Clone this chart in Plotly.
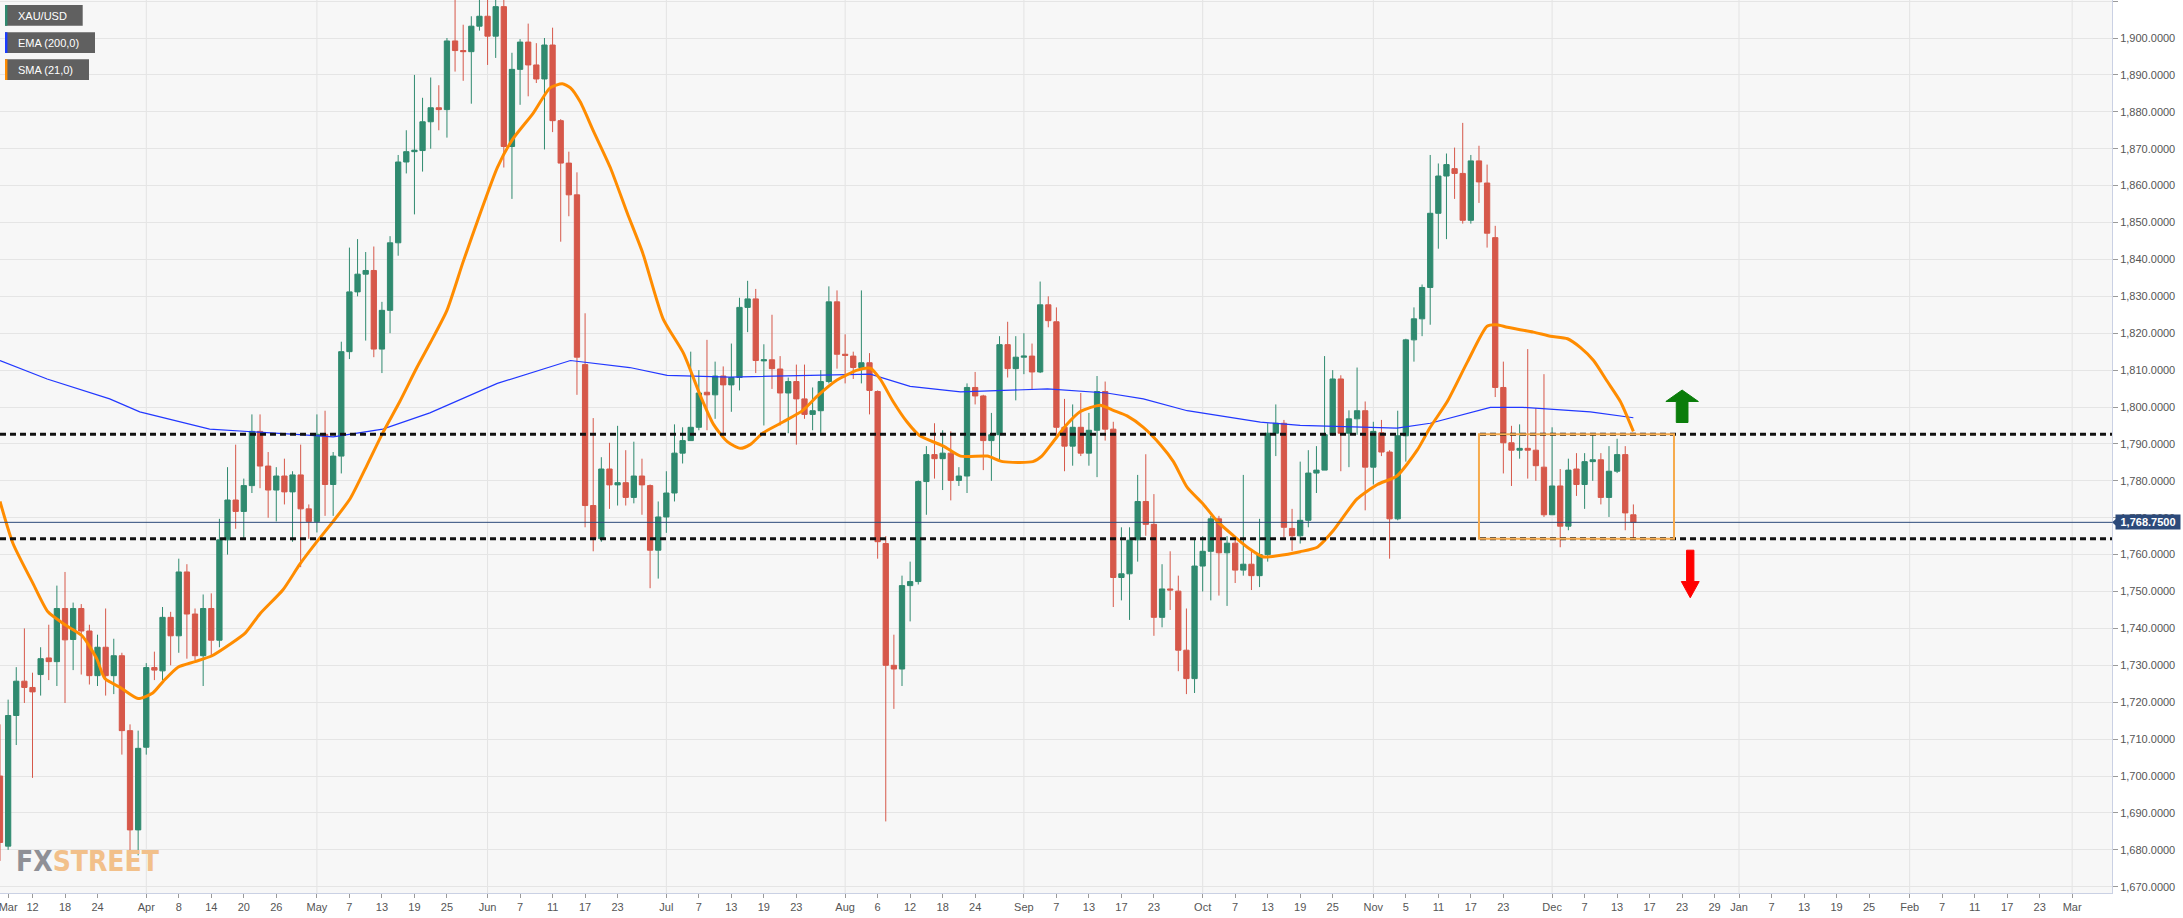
import pandas as pd
import plotly.graph_objects as go

# ---------------- data ----------------
HOLIDAYS = ["2021-04-02"]
calendar = [d.strftime("%Y-%m-%d") for d in pd.bdate_range("2021-03-08", "2022-03-20")
            if d.strftime("%Y-%m-%d") not in HOLIDAYS]
day_of = {d: i for i, d in enumerate(calendar)}

opens = [1700, 1681, 1716.4, 1725.7, 1724, 1727.5, 1732, 1731, 1745.4, 1737,
         1745.4, 1739.3, 1727.2, 1734.9, 1727.2, 1732.6, 1712.3, 1685.4, 1707.8, 1729.4,
         1728.5, 1743, 1738, 1755.3, 1743.9, 1732.6, 1745.4, 1736.8, 1764, 1774.8,
         1771.7, 1778.7, 1793.4, 1784, 1777.5, 1781.3, 1777, 1781.6, 1772.4, 1769,
         1792.6, 1779, 1786.7, 1815, 1831.2, 1836, 1837, 1815.7, 1826.2, 1844.5,
         1866.4, 1869.2, 1869.5, 1877.3, 1881.1, 1880.6, 1899.2, 1896.6, 1896.3, 1903.2,
         1905.9, 1900.5, 1908.5, 1870.6, 1891.5, 1898.9, 1892.7, 1888.9, 1898.1, 1877.6,
         1866.1, 1857.5, 1811.5, 1773.3, 1764.3, 1783.2, 1778.9, 1779.5, 1775.5, 1781.3,
         1778.7, 1761.2, 1770.2, 1776.7, 1787.5, 1790.9, 1794.5, 1804, 1803.3, 1808.4,
         1806, 1808, 1827, 1829.3, 1812.5, 1812.8, 1810.3, 1803.8, 1806.9, 1802.2,
         1798, 1799, 1806.9, 1828.5, 1814.3, 1813.8, 1810.7, 1812, 1804.2, 1763,
         1730, 1729, 1751.6, 1752.7, 1779.8, 1787.1, 1786, 1787.5, 1780.1, 1781.3,
         1805.3, 1803, 1790.9, 1792.5, 1816.9, 1810.4, 1813.5, 1813.8, 1809.5, 1827.7,
         1823.1, 1794.5, 1789.4, 1794.5, 1787.5, 1793.7, 1804.2, 1794, 1753.8, 1754.8,
         1764, 1774.4, 1768.2, 1743, 1750.7, 1750.1, 1734.1, 1726.4, 1756.9, 1760.9,
         1769.7, 1760.5, 1763.1, 1755.8, 1757.4, 1754.3, 1760, 1792.9, 1795.6, 1767.1,
         1765.1, 1769.3, 1782.1, 1782.9, 1792.5, 1807.6, 1792.9, 1796.8, 1799, 1783.7,
         1793, 1787.8, 1769.7, 1792.2, 1818.2, 1823.9, 1832.4, 1852.5, 1862.6, 1864.6,
         1863.3, 1850.6, 1866.7, 1860.7, 1845.9, 1805.3, 1790.3, 1788.3, 1788.8, 1788.3,
         1783.7, 1770.8, 1778.6, 1767.7, 1783.2, 1779, 1785.2, 1785.7, 1775.5, 1782.6,
         1787.1, 1770.8]
highs = [1714, 1720.7, 1729.5, 1740, 1728, 1734.9, 1741, 1751.6, 1755.3, 1747,
         1746.6, 1741, 1738.3, 1745.4, 1737.2, 1733.4, 1714, 1712.3, 1730.6, 1733.7,
         1745.8, 1744.5, 1758.9, 1757.4, 1745.4, 1749.2, 1749.5, 1769.7, 1783.7, 1789.8,
         1780.6, 1798, 1798, 1787.8, 1783.7, 1786, 1782.6, 1789.8, 1773.6, 1798,
         1799, 1787.8, 1817.7, 1843.2, 1845.5, 1842, 1843.5, 1828.5, 1846.3, 1868.3,
         1875, 1890, 1883.8, 1889.3, 1887.2, 1900, 1912.5, 1903.6, 1905.9, 1912,
         1916.5, 1913, 1912, 1896, 1899.7, 1903.9, 1898.6, 1900, 1902.8, 1878,
         1869.2, 1863.6, 1825.4, 1797, 1786.4, 1790.3, 1794.9, 1788.3, 1790.6, 1786,
         1779, 1774.4, 1782.6, 1795.3, 1794.5, 1815, 1810, 1818.2, 1812.3, 1811,
         1817.2, 1829.6, 1834.2, 1832, 1817, 1825, 1813.8, 1808, 1811.5, 1811.5,
         1805.3, 1810, 1832.7, 1831.6, 1819.7, 1815, 1831.6, 1814.6, 1804.5, 1765,
         1738.3, 1754.3, 1758.1, 1780.1, 1789.4, 1795.6, 1793.7, 1793.4, 1783.7, 1806.4,
         1809.5, 1803.3, 1798.4, 1819.2, 1823.1, 1819.2, 1820, 1817.2, 1834, 1830,
         1827, 1802.2, 1800.7, 1803.8, 1798.4, 1808.4, 1806.9, 1796, 1767.4, 1767.4,
         1781.6, 1787.2, 1776.4, 1757.4, 1760.9, 1754.3, 1745.4, 1764, 1765, 1770.5,
         1770.5, 1765, 1765, 1781.6, 1761.2, 1769.7, 1795.6, 1800.7, 1796.5, 1772.4,
         1785.2, 1788.3, 1789.4, 1813.8, 1810, 1808.6, 1799.1, 1810.7, 1801.5, 1796,
         1796.5, 1788.3, 1799, 1818.5, 1827, 1833.2, 1868.3, 1866, 1868.7, 1870.3,
         1877, 1868.3, 1870.8, 1865.7, 1849.1, 1812.3, 1794.9, 1795.3, 1815.7, 1799.7,
         1808.9, 1794.5, 1783.2, 1786, 1787.5, 1787.5, 1792.9, 1787.5, 1789.4, 1791.4,
         1789.4, 1773.6]
lows = [1677, 1680, 1708.4, 1719.8, 1699.5, 1721.8, 1726, 1724.4, 1719.8, 1728.7,
        1727.5, 1724.8, 1724.4, 1721.8, 1722.2, 1705.8, 1679.2, 1678.5, 1705.8, 1726,
        1726, 1730, 1733.4, 1731.8, 1731.4, 1724.4, 1732.6, 1734.9, 1760, 1767,
        1764, 1776.7, 1778, 1770, 1769, 1773.6, 1763.5, 1756.6, 1764.3, 1766,
        1770.5, 1770.5, 1782, 1813, 1830, 1818, 1813.5, 1809.2, 1820, 1841,
        1863.3, 1852.2, 1863.8, 1870, 1875, 1873, 1890.9, 1888.4, 1882.2, 1902,
        1892.7, 1894.6, 1864.9, 1856.4, 1881.9, 1884.2, 1887.8, 1869.8, 1874.5, 1844.8,
        1851.7, 1803.3, 1767.4, 1760.9, 1763.5, 1772.4, 1773.3, 1773.3, 1773.9, 1770.8,
        1750.9, 1753.5, 1765.9, 1774.4, 1784.7, 1790.9, 1793.7, 1793.7, 1796.8, 1792,
        1798.7, 1804.5, 1820.3, 1809.2, 1795, 1804.9, 1795, 1792.9, 1789.8, 1796.8,
        1793.7, 1792.5, 1806.4, 1810.4, 1806.4, 1807.6, 1806.4, 1798, 1758.9, 1687.7,
        1718.2, 1724.4, 1741.9, 1751.9, 1770.8, 1780.6, 1777.5, 1774.7, 1778.6, 1776.7,
        1800.7, 1782.9, 1780, 1785.2, 1808, 1801.8, 1808.9, 1804.9, 1809.2, 1821.6,
        1792.5, 1782.6, 1784.1, 1786.7, 1784.1, 1781, 1790.9, 1745.8, 1747.6, 1742.3,
        1758.1, 1765.1, 1738, 1740.3, 1745, 1728.4, 1722.2, 1722.5, 1750, 1747.6,
        1748.9, 1746.1, 1752.3, 1754.3, 1750.4, 1751.2, 1758.1, 1786.7, 1764.6, 1761,
        1763, 1767.4, 1776.7, 1782.9, 1792.2, 1782.6, 1783.7, 1792.5, 1772, 1779,
        1786.7, 1758.9, 1769.3, 1785.2, 1812.3, 1819.2, 1822.3, 1842.9, 1845.5, 1856.4,
        1849.7, 1849.7, 1855.3, 1843.2, 1802.7, 1782, 1778.6, 1786, 1780.6, 1780,
        1770.2, 1770.8, 1762, 1766.6, 1775.9, 1772.4, 1780, 1773.6, 1770.2, 1782.1,
        1766.6, 1764.3]
closes = [1682, 1716.4, 1725.7, 1724, 1722.8, 1731.8, 1731, 1745.4, 1736.9, 1745.4,
          1739.3, 1727.2, 1734.9, 1727.2, 1732.6, 1712.3, 1685.4, 1707.5, 1729.4, 1728.7,
          1743, 1738, 1755.3, 1743.9, 1732.6, 1745.4, 1736.8, 1764, 1774.8, 1771.7,
          1778.7, 1793.4, 1784, 1777.5, 1781.3, 1777, 1781.6, 1772.4, 1769, 1792.6,
          1779, 1786.7, 1815, 1831.2, 1836, 1837, 1815.7, 1826.2, 1844.5, 1866.4,
          1869.2, 1869.6, 1877.3, 1881.1, 1880.6, 1899.2, 1896.6, 1896.3, 1903.2, 1905.9,
          1900.5, 1908.5, 1870.6, 1891.5, 1898.9, 1892.7, 1888.9, 1898.1, 1877.6, 1866.1,
          1857.5, 1813.5, 1773.3, 1764.3, 1783.2, 1778.9, 1779.5, 1775.5, 1781.3, 1778.9,
          1761.2, 1770.2, 1776.7, 1787.5, 1790.9, 1794.5, 1803.8, 1803.3, 1808.4, 1806,
          1808, 1827, 1829.3, 1812.6, 1812.8, 1810.4, 1803.8, 1806.9, 1802.2, 1798,
          1799, 1806.9, 1828.5, 1814.3, 1814, 1810.7, 1812, 1804.5, 1763.5, 1730,
          1729, 1751.6, 1752.7, 1779.8, 1787.1, 1786, 1787.5, 1780.1, 1781.3, 1805.3,
          1803, 1790.9, 1792.5, 1816.9, 1810.4, 1813.5, 1813.8, 1809.5, 1827.7, 1823.4,
          1794.5, 1789.4, 1794.5, 1787.5, 1793.7, 1804.2, 1794, 1753.8, 1754.8, 1763.9,
          1774.4, 1768.2, 1743, 1750.7, 1750.4, 1734.1, 1726.4, 1756.9, 1760.9, 1769.7,
          1760.5, 1763.1, 1755.8, 1757.4, 1754.3, 1760, 1792.9, 1795.6, 1767.4, 1765.1,
          1769.3, 1782.1, 1782.9, 1792.5, 1807.6, 1792.9, 1796.8, 1799, 1783.7, 1793.4,
          1787.8, 1769.7, 1792.2, 1818.2, 1823.9, 1832.4, 1852.5, 1862.6, 1865.7, 1863.3,
          1850.6, 1866.7, 1861, 1847.1, 1805.3, 1790.3, 1788.3, 1788.8, 1788.3, 1784.1,
          1770.8, 1778.6, 1767.7, 1782.9, 1779, 1785.2, 1785.7, 1775.5, 1782.6, 1787.1,
          1771.3, 1768.75]

# SMA(21) and EMA(200) (trading-day number, value)
sma_day = [0.0, 1.6, 4.1, 5.9, 8.0, 10.1, 11.9, 12.9, 14.8, 17.0, 18.8, 20.1, 21.9, 24.0, 26.1,
           28.3, 30.2, 32.0, 34.8, 36.9, 39.0, 41.0, 43.1, 45.2, 47.1, 49.2, 51.3, 52.9, 55.0,
           57.0, 59.1, 61.2, 63.1, 65.6, 67.7, 69.2, 70.2, 71.4, 73.0, 75.1, 77.2, 79.1, 81.6,
           84.1, 86.2, 87.8, 89.5, 91.1, 92.3, 93.9, 96.4, 98.8, 100.6, 103.0, 105.5, 107.1,
           108.3, 109.9, 111.6, 113.2, 116.1, 118.2, 121.5, 123.4, 127.1, 128.2, 129.6, 131.3,
           132.9, 135.4, 137.0, 138.7, 140.7, 142.8, 144.4, 146.1, 148.1, 149.8, 151.8, 153.8,
           155.4, 157.2, 160.0, 162.1, 164.1, 167.0, 169.5, 171.9, 174.4, 176.0, 178.1, 180.6,
           183.0, 184.2, 185.5, 188.7, 190.8, 192.9, 194.5, 196.1, 197.8, 199.4, 201.0]
sma_val = [1774.4, 1763, 1752, 1744.5, 1741, 1738, 1731.8, 1726.4, 1724, 1721, 1722.5, 1725.7,
           1729.5, 1731, 1732.6, 1735.7, 1738.8, 1744, 1750.4, 1757.4, 1763.5, 1769, 1775.2,
           1784.4, 1793, 1801.5, 1810.7, 1817.2, 1826.2, 1839.4, 1852.5, 1864.9, 1872.6,
           1879.6, 1886.5, 1887.6, 1886.5, 1882.7, 1874.9, 1864.9, 1852.5, 1841.7, 1823.9,
           1814.6, 1803, 1795.3, 1790.6, 1788.8, 1789.8, 1793, 1796, 1799.1, 1803, 1807.3,
           1810, 1810.5, 1807.6, 1801.5, 1796, 1792.2, 1789.4, 1786.7, 1786.7, 1785.2, 1785.2,
           1786.7, 1790.6, 1795.3, 1798.7, 1800.5, 1799.1, 1797.6, 1794.5, 1789.8, 1785.2,
           1778.2, 1773.6, 1769, 1765.1, 1761.5, 1759.4, 1759.7, 1760.8, 1762, 1766.6, 1775.1,
           1779, 1781.3, 1788.3, 1794.5, 1801.5, 1812.3, 1821.9, 1822.3, 1821.6, 1820.3,
           1819.2, 1818.5, 1816.1, 1812.6, 1806.9, 1801.5, 1793.4]
ema_day = [0.0, 5.8, 13.5, 17.2, 25.8, 30.8, 36.9, 41.0, 47.1, 52.9, 61.2, 70.2, 77.5, 82.1,
           89.8, 107.1, 112.0, 118.2, 128.9, 136.2, 140.7, 146.1, 155.1, 160.0, 171.9, 176.0,
           183.4, 187.4, 195.7, 201.0]
ema_val = [1812.6, 1807.6, 1802.2, 1798.7, 1794, 1793.4, 1792.5, 1791.9, 1794, 1798.4, 1806.4,
           1812.6, 1810.7, 1808.6, 1808.1, 1808.9, 1805.6, 1804.1, 1804.9, 1803.8, 1802.2, 1799,
           1795.9, 1795, 1794.3, 1795.6, 1799.9, 1799.9, 1798.7, 1797.1]

resistance = 1792.6
support = 1764.3
last_price = 1768.75
range_start, range_end = "2021-11-18", "2021-12-22"

tick_dates = ["2021-03-09", "2021-03-12", "2021-03-18", "2021-03-24", "2021-04-01", "2021-04-08",
              "2021-04-14", "2021-04-20", "2021-04-26", "2021-05-03", "2021-05-07", "2021-05-13",
              "2021-05-19", "2021-05-25", "2021-06-01", "2021-06-07", "2021-06-11", "2021-06-17",
              "2021-06-23", "2021-07-01", "2021-07-07", "2021-07-13", "2021-07-19", "2021-07-23",
              "2021-08-02", "2021-08-06", "2021-08-12", "2021-08-18", "2021-08-24", "2021-09-01",
              "2021-09-07", "2021-09-13", "2021-09-17", "2021-09-23", "2021-10-01", "2021-10-07",
              "2021-10-13", "2021-10-19", "2021-10-25", "2021-11-01", "2021-11-05", "2021-11-11",
              "2021-11-17", "2021-11-23", "2021-12-01", "2021-12-07", "2021-12-13", "2021-12-17",
              "2021-12-23", "2021-12-29", "2022-01-03", "2022-01-07", "2022-01-13", "2022-01-19",
              "2022-01-25", "2022-02-01", "2022-02-07", "2022-02-11", "2022-02-17", "2022-02-23",
              "2022-03-01"]
tick_text = ["Mar", "12", "18", "24", "Apr", "8", "14", "20", "26", "May", "7", "13", "19", "25",
             "Jun", "7", "11", "17", "23", "Jul", "7", "13", "19", "23", "Aug", "6", "12", "18",
             "24", "Sep", "7", "13", "17", "23", "Oct", "7", "13", "19", "25", "Nov", "5", "11",
             "17", "23", "Dec", "7", "13", "17", "23", "29", "Jan", "7", "13", "19", "25", "Feb",
             "7", "11", "17", "23", "Mar"]
month_dates = ["2021-04-01", "2021-05-03", "2021-06-01", "2021-07-01", "2021-08-02", "2021-09-01",
               "2021-10-01", "2021-11-01", "2021-12-01", "2022-01-03", "2022-02-01", "2022-03-01"]

# ---------------- styling ----------------
GREEN = "#2f8a6f"
RED = "#d6584a"
PLOT_W, PLOT_H = 2112, 893


def pxx(x):
    return x / PLOT_W


def pxy(y):
    return 1 - y / PLOT_H


n = len(opens)
xs = list(range(n))

fig = go.Figure()
fig.add_trace(go.Candlestick(
    x=xs, open=opens, high=highs, low=lows, close=closes,
    increasing=dict(line=dict(color=GREEN, width=1), fillcolor=GREEN),
    decreasing=dict(line=dict(color=RED, width=1), fillcolor=RED),
    whiskerwidth=0, hoverinfo="skip", name="XAU/USD"))
fig.add_trace(go.Scatter(x=ema_day, y=ema_val, mode="lines",
                         line=dict(color="#2238ff", width=1.2), hoverinfo="skip", name="EMA (200,0)"))
fig.add_trace(go.Scatter(x=sma_day, y=sma_val, mode="lines",
                         line=dict(color="#ff8c00", width=3, shape="spline", smoothing=0.6),
                         hoverinfo="skip", name="SMA (21,0)"))

shapes = []
# vertical month grid lines
for d in month_dates:
    shapes.append(dict(type="line", xref="x", yref="paper", x0=day_of[d], x1=day_of[d], y0=0, y1=1,
                       line=dict(color="#e3e3e3", width=1), layer="below"))
# last price line
shapes.append(dict(type="line", xref="paper", yref="y", x0=0, x1=1, y0=last_price, y1=last_price,
                   line=dict(color="#2c4a7a", width=1)))
# support / resistance
for lvl in (resistance, support):
    shapes.append(dict(type="line", xref="paper", yref="y", x0=0, x1=1, y0=lvl, y1=lvl,
                       line=dict(color="#111111", width=3, dash="6px,4px")))
# range box
shapes.append(dict(type="rect", xref="x", yref="y", x0=day_of[range_start], x1=day_of[range_end],
                   y0=support, y1=resistance, line=dict(color="#f6ab4e", width=2),
                   fillcolor="rgba(0,0,0,0)"))
# green up arrow
ua_x = day_of["2021-12-23"]
shapes.append(dict(type="path", xref="x", yref="y",
                   path=(f"M {ua_x-0.72},1795.8 L {ua_x+0.72},1795.8 L {ua_x+0.72},1801.5 "
                         f"L {ua_x+2.0},1801.5 L {ua_x},1804.6 L {ua_x-2.0},1801.5 "
                         f"L {ua_x-0.72},1801.5 Z"),
                   fillcolor="#0a7d0a", line=dict(color="#0a7d0a", width=1)))
# red down arrow
da_x = day_of["2021-12-24"]
shapes.append(dict(type="path", xref="x", yref="y",
                   path=(f"M {da_x-0.45},1761.2 L {da_x+0.45},1761.2 L {da_x+0.45},1752.7 "
                         f"L {da_x+1.1},1752.7 L {da_x},1748.3 L {da_x-1.1},1752.7 "
                         f"L {da_x-0.45},1752.7 Z"),
                   fillcolor="#ff0000", line=dict(color="#ff0000", width=1)))

# legend boxes
legend_items = [("XAU/USD", GREEN, 5, 82.7), ("EMA (200,0)", "#1a3cff", 32.3, 95),
                ("SMA (21,0)", "#ff8c00", 59.3, 89)]
annotations = []
for label, col, top, right in legend_items:
    shapes.append(dict(type="rect", xref="paper", yref="paper", x0=pxx(5), x1=pxx(right),
                       y0=pxy(top + 20.7), y1=pxy(top), fillcolor="#606060", line=dict(width=0)))
    shapes.append(dict(type="rect", xref="paper", yref="paper", x0=pxx(5), x1=pxx(7.4),
                       y0=pxy(top + 20.7), y1=pxy(top), fillcolor=col, line=dict(width=0)))
    annotations.append(dict(xref="paper", yref="paper", x=pxx(16), y=pxy(top + 10.5),
                            xanchor="left", yanchor="middle", showarrow=False, text=label,
                            font=dict(family="Liberation Sans, Arial, sans-serif", size=11,
                                      color="white")))

# last price tag
annotations.append(dict(xref="paper", yref="y", x=1, y=last_price, xanchor="left", yanchor="middle",
                        xshift=3, showarrow=False, text="<b>1,768.7500</b>", bgcolor="#2c4a7a",
                        borderpad=1, width=62, height=12,
                        font=dict(family="Liberation Sans, Arial, sans-serif", size=11, color="white")))
shapes.append(dict(type="path", xref="paper", yref="y",
                   path=f"M {pxx(2112)},{last_price} L {pxx(2116)},{last_price + 0.9} "
                        f"L {pxx(2116)},{last_price - 0.9} Z",
                   fillcolor="#2c4a7a", line=dict(width=0)))

# watermark
annotations.append(dict(xref="paper", yref="paper", x=pxx(14), y=pxy(880), xanchor="left",
                        yanchor="bottom", showarrow=False,
                        text="<b><span style='color:#8f9096'>FX</span>"
                             "<span style='color:#f2c08a'>STREET</span></b>",
                        font=dict(family="DejaVu Sans Condensed, Liberation Sans Narrow, sans-serif",
                                  size=28)))

fig.update_layout(
    width=2183, height=918,
    margin=dict(l=0, r=71, t=0, b=25, autoexpand=False),
    paper_bgcolor="white", plot_bgcolor="#f7f7f7",
    showlegend=False, boxgap=0.35, boxgroupgap=0,
    shapes=shapes, annotations=annotations,
    font=dict(family="Liberation Sans, Arial, sans-serif"),
    xaxis=dict(range=[0, 259.9], tickmode="array", tickvals=[day_of[d] for d in tick_dates],
               ticktext=tick_text, showgrid=False, zeroline=False, ticks="outside", ticklen=4,
               tickcolor="#9a9a9a", showline=True, linecolor="#cad1e4", linewidth=1, mirror=True,
               tickfont=dict(size=11, color="#555555"), rangeslider=dict(visible=False),
               ticklabeloverflow="allow", fixedrange=True),
    yaxis=dict(side="right", range=[1668.3, 1910.3], tick0=1670, dtick=10, tickformat=",.4f",
               showgrid=True, gridcolor="#e5e5e5", gridwidth=1, zeroline=False, ticks="outside",
               ticklen=5, tickcolor="#9a9a9a", showline=True, linecolor="#cad1e4", linewidth=1,
               tickfont=dict(size=11, color="#555555"), fixedrange=True),
)

fig.write_html("out.html")
